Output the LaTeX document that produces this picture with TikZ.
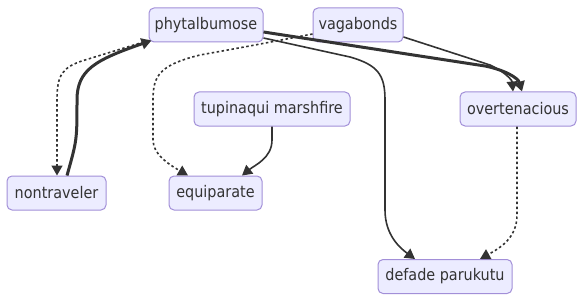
\documentclass[tikz,border=0pt]{standalone}
\usepackage{fontspec}
\setmainfont{DejaVu Sans Condensed}
\usetikzlibrary{arrows.meta,calc}
\definecolor{boxfill}{HTML}{ECECFF}
\definecolor{boxline}{HTML}{A28FD8}
\definecolor{ink}{HTML}{333333}
\begin{document}
\begin{tikzpicture}[x=1pt,y=-1pt,
  box/.style={draw=boxline,fill=boxfill,line width=1pt,rounded corners=5pt,
    minimum height=34pt,inner sep=0pt,text=ink,font=\fontsize{16}{18}\selectfont},
  link/.style={draw=ink,line width=1.6pt,-{Triangle[length=10pt,width=11pt]}},
  heavy/.style={link,line width=3pt},
  dots/.style={link,dash pattern=on 2.5pt off 2.5pt}]
\useasboundingbox (0,0) rectangle (583,302);

% nodes
\node[box,minimum width=114pt] (p) at (206,25) {phytalbumose};
\node[box,minimum width=90pt]  (v) at (358,25) {vagabonds};
\node[box,minimum width=156pt] (t) at (272,109) {tupinaqui marshfire};
\node[box,minimum width=116pt] (o) at (518,109) {overtenacious};
\node[box,minimum width=99pt]  (n) at (56.5,193) {nontraveler};
\node[box,minimum width=93pt]  (e) at (215.5,193) {equiparate};
\node[box,minimum width=134pt] (d) at (445,276.5) {defade parukutu};

% connectors
\draw[dots] ($(p.south west)+(0,-2)$) -- (85,60)
  .. controls (62,67) and (57,75) .. (57,100) -- ($(n.north)+(0.5,0)$);
\draw[heavy] ($(n.north)+(10.5,0)$) .. controls (77,140) .. (77,100)
  .. controls (77,70) and (95,60) .. ($(p.south west)+(3,-2)$);
\draw[dots] ($(v.west)+(0,9)$) .. controls (250,46) .. (200,55)
  .. controls (160,65) and (153,75) .. (153,100) -- (153,140)
  .. controls (153,155) and (170,165) .. ($(e.north)+(-27.5,0)$);
\draw[link] (t.south) -- (272,140)
  .. controls (272,158) and (255,165) .. ($(e.north)+(26.5,0)$);
\draw[heavy] ($(p.east)+(0,7)$) -- (485,66)
  .. controls (505,70) and (518,78) .. ($(o.north)+(4,0)$);
\draw[link] ($(v.east)+(0,12)$) -- (490,65)
  .. controls (505,72) and (512,80) .. ($(o.north)+(-5,0)$);
\draw[link] ($(p.east)+(0,13)$) -- (350,57)
  .. controls (378,65) and (385,75) .. (385,100) -- (385,210)
  .. controls (385,235) and (400,248) .. ($(d.north)+(-30,0)$);
\draw[dots] ($(o.south)+(-1,0)$) -- (517,215)
  .. controls (517,238) and (500,248) .. ($(d.north)+(35,0)$);
\end{tikzpicture}
\end{document}
